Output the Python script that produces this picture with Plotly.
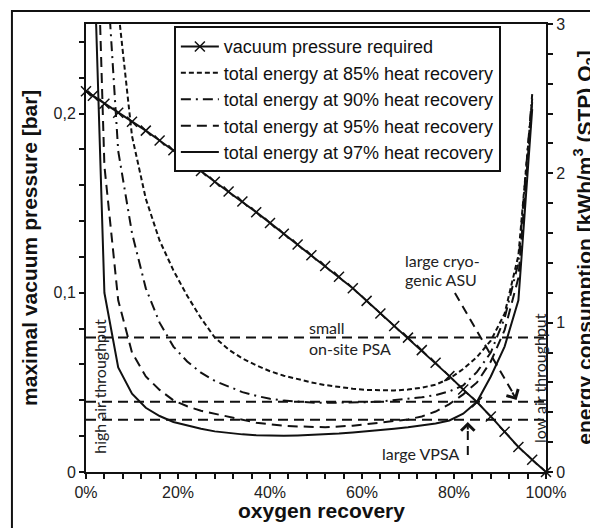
import plotly.graph_objects as go

# oxygen recovery [%] at which the model was evaluated
X_REC = [0, 1.5, 4, 7, 10, 13, 16, 19, 22, 25, 28, 31, 34, 37, 40, 43, 46, 49,
         52, 55, 58, 61, 64, 67, 70, 73, 76, 79, 82, 85, 88, 91, 94, 97, 100]

# maximal vacuum pressure [bar] (left axis)
P_VAC = [0.2125, 0.210, 0.2055, 0.2005, 0.1955, 0.1905, 0.185, 0.1795, 0.1735,
         0.168, 0.162, 0.1565, 0.151, 0.145, 0.139, 0.133, 0.127, 0.121, 0.115,
         0.109, 0.1025, 0.0955, 0.0885, 0.0815, 0.075, 0.068, 0.061, 0.0535,
         0.046, 0.039, 0.031, 0.0225, 0.014, 0.0068, 0.0]

# total energy [kWh/m3 (STP) O2] (right axis)
E_85 = [None, None, None, 3.1, 2.25, 1.83, 1.55, 1.35, 1.18, 1.03, 0.9, 0.82,
        0.76, 0.715, 0.675, 0.645, 0.62, 0.6, 0.582, 0.568, 0.558, 0.55, 0.546,
        0.546, 0.552, 0.565, 0.585, 0.625, 0.69, 0.77, 0.88, 1.06, 1.45, 2.5, None]
E_90 = [None, None, 3.62, 2.15, 1.6, 1.23, 1.0, 0.84, 0.74, 0.665, 0.61, 0.57,
        0.535, 0.51, 0.49, 0.478, 0.47, 0.465, 0.463, 0.463, 0.465, 0.468, 0.472,
        0.48, 0.49, 0.5, 0.515, 0.54, 0.58, 0.67, 0.8, 1.03, 1.4, 2.53, None]
E_95 = [None, 4.6, 2.05, 1.15, 0.8, 0.64, 0.55, 0.48, 0.44, 0.41, 0.39, 0.365,
        0.345, 0.33, 0.32, 0.31, 0.305, 0.30, 0.30, 0.305, 0.31, 0.32, 0.33,
        0.34, 0.352, 0.372, 0.405, 0.455, 0.52, 0.6, 0.74, 0.95, 1.3, 2.48, None]
E_97 = [None, 3.7, 1.2, 0.70, 0.525, 0.43, 0.375, 0.335, 0.31, 0.29, 0.272, 0.26,
        0.252, 0.246, 0.242, 0.242, 0.245, 0.248, 0.252, 0.258, 0.265, 0.272,
        0.28, 0.29, 0.30, 0.312, 0.325, 0.345, 0.39, 0.47, 0.64, 0.84, 1.15,
        2.43, None]

# reference technologies [kWh/m3 (STP) O2]
TECH_LEVELS = [0.9, 0.47, 0.35]

X_TICKS = [0, 20, 40, 60, 80, 100]
X_TICKTEXT = ["0%", "20%", "40%", "60%", "80%", "100%"]
Y_TICKS = [0, 0.1, 0.2]
Y_TICKTEXT = ["0", "0,1", "0,2"]
Y2_TICKS = [0, 1, 2, 3]

INK = "#111111"
SANS = "Liberation Sans, Arial, sans-serif"
NOTE_FONT = dict(family="Lato, Open Sans, sans-serif", size=16, color="#222222")
TITLE_FONT = dict(family=SANS, size=21, color=INK)

fig = go.Figure()

fig.add_trace(go.Scatter(
    x=X_REC, y=P_VAC, name="vacuum pressure required",
    mode="lines+markers", cliponaxis=False,
    line=dict(color=INK, width=2),
    marker=dict(symbol="x-thin", size=10, line=dict(color=INK, width=1.5)),
))

energy = [
    ("total energy at 85% heat recovery", E_85, "5px,3px"),
    ("total energy at 90% heat recovery", E_90, "10px,5px,2px,5px"),
    ("total energy at 95% heat recovery", E_95, "10px,6px"),
    ("total energy at 97% heat recovery", E_97, "solid"),
]
for name, vals, dash in energy:
    fig.add_trace(go.Scatter(
        x=X_REC, y=vals, name=name, yaxis="y2", mode="lines",
        line=dict(color=INK, width=2, dash=dash), connectgaps=False,
    ))

for lvl in TECH_LEVELS:
    fig.add_trace(go.Scatter(
        x=[0, 100], y=[lvl, lvl], yaxis="y2", mode="lines", showlegend=False,
        line=dict(color=INK, width=2, dash="10px,6px"), hoverinfo="skip",
    ))

axis_common = dict(
    showline=True, linewidth=2, linecolor=INK, showgrid=False, zeroline=False,
    ticks="outside", ticklen=5, tickwidth=1.5, tickcolor=INK, automargin=False,
    tickfont=dict(family=SANS, size=16, color="#222222"),
)
minor_common = dict(ticks="outside", ticklen=5, tickwidth=1.5, tickcolor=INK, tick0=0)

# the page body adds 8px around the plot div; the div is shifted to compensate
fig.update_layout(
    width=590, height=520,
    margin=dict(l=78, r=52, t=16, b=56),
    paper_bgcolor="white", plot_bgcolor="white",
    font=dict(family=SANS, color=INK),
    xaxis=dict(range=[0, 100], tickvals=X_TICKS, ticktext=X_TICKTEXT, mirror=True,
               minor=dict(dtick=4, **minor_common), **axis_common),
    yaxis=dict(range=[0, 0.25], tickvals=Y_TICKS, ticktext=Y_TICKTEXT,
               minor=dict(dtick=0.02, **minor_common), **axis_common),
    yaxis2=dict(range=[0, 3], overlaying="y", side="right", tickvals=Y2_TICKS,
                minor=dict(dtick=0.2, **minor_common), **axis_common),
    legend=dict(x=0.191, y=0.995, xanchor="left", yanchor="top",
                bgcolor="white", bordercolor=INK, borderwidth=2,
                font=dict(family=SANS, size=18, color=INK),
                itemwidth=38, tracegroupgap=0),
)

# outer frame of the picture
fig.add_shape(type="rect", xref="paper", yref="paper",
              x0=-0.161, x1=1.2, y0=-0.2, y1=1.029,
              line=dict(color=INK, width=2))

# dashed arrows (shaft as dashed line, head as tiny annotation arrow)
fig.add_shape(type="line", xref="x", yref="y2", x0=80.2, y0=1.199, x1=92.6, y1=0.54,
              line=dict(color=INK, width=2, dash="9px,6px"))
fig.add_shape(type="line", xref="x", yref="y2", x0=83, y0=0.114, x1=83, y1=0.31,
              line=dict(color=INK, width=2, dash="9px,6px"))
for hx, hy, ax, ay in [(93.6, 0.482, -5, -9), (83, 0.335, 0, 9)]:
    fig.add_annotation(x=hx, y=hy, xref="x", yref="y2", text="", showarrow=True,
                       ax=ax, ay=ay, arrowhead=4, arrowsize=1.3, arrowwidth=2,
                       arrowcolor=INK)

notes = [
    ("small", 48, 0.97),
    ("on-site PSA", 48, 0.83),
    ("large cryo-", 68.9, 1.413),
    ("genic ASU", 68.9, 1.286),
    ("large VPSA", 63.9, 0.127),
]
for txt, nx, ny in notes:
    fig.add_annotation(x=nx, y=ny, xref="x", yref="y2", text=txt, showarrow=False,
                       xanchor="left", yanchor="middle", font=NOTE_FONT)
for txt, nx, ny in [("high air throughput", 3.0, 0.576), ("low air throughput", 98.7, 0.63)]:
    fig.add_annotation(x=nx, y=ny, xref="x", yref="y2", text=txt, showarrow=False,
                       textangle=-90, xanchor="center", yanchor="middle", font=NOTE_FONT)

# axis titles
titles = [
    ("<b>maximal vacuum pressure [bar]</b>", -0.124, 0.5, -90),
    ("<b>energy consumption [kWh/m<sup>3</sup> (STP) O<sub>2</sub>]</b>", 1.082, 0.5, -90),
    ("<b>oxygen recovery</b>", 0.511, -0.087, 0),
]
for txt, tx, ty, ang in titles:
    fig.add_annotation(x=tx, y=ty, xref="paper", yref="paper", showarrow=False,
                       text=txt, textangle=ang, xanchor="center", yanchor="middle",
                       font=TITLE_FONT)

fig.write_html("out.html")
